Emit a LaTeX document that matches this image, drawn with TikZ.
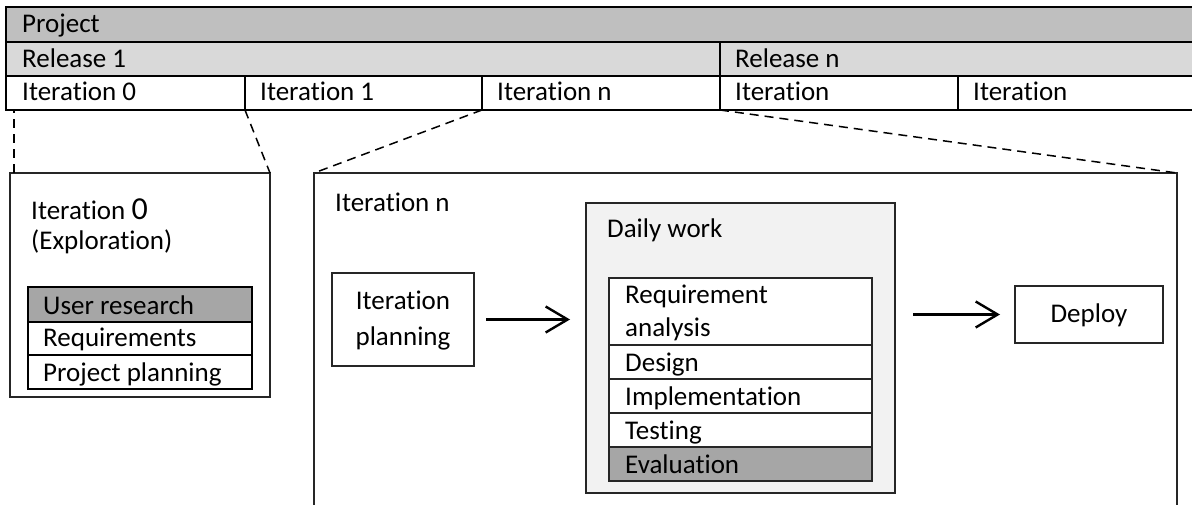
\documentclass[tikz,border=0pt]{standalone}
\usepackage{fontspec}
\setmainfont{Carlito}[Ligatures={NoCommon}]
\usetikzlibrary{arrows.meta}
\newcommand\myfs{\fontsize{27}{32}\selectfont}
\definecolor{gProj}{HTML}{BFBFBF}
\definecolor{gRel}{HTML}{D9D9D9}
\definecolor{gDark}{HTML}{A6A6A6}
\definecolor{gLight}{HTML}{F2F2F2}
\tikzset{
  cell/.style={draw=black, line width=1.3pt, inner sep=0pt, outer sep=0pt, anchor=north west, rectangle},
  lbox/.style={draw=black!85, line width=1.1pt, inner sep=0pt, outer sep=0pt, anchor=north west, rectangle},
  tbox/.style={draw=black, line width=2pt, inner sep=0pt, outer sep=0pt, anchor=north west, rectangle},
  lbl/.style={inner sep=0pt, anchor=base west, font=\myfs},
  clbl/.style={inner sep=0pt, anchor=base, font=\myfs},
  dsh/.style={draw=black, line width=1.5pt, dash pattern=on 9pt off 6pt},
  flow/.style={draw=black, line width=2.4pt, -{Straight Barb[length=22pt, width=26pt, line width=2.4pt]}},
}
\begin{document}
\begin{tikzpicture}[x=1pt, y=-1pt]
\useasboundingbox (0,0) rectangle (1192,505);
\clip (0,0) rectangle (1192,505);
% top table
\node[cell, fill=gProj, minimum width=1200pt, minimum height=35pt] (proj) at (6,7) {};
\node[cell, fill=gRel, minimum width=714pt, minimum height=34pt] (rel1) at (6,42) {};
\node[cell, fill=gRel, minimum width=480pt, minimum height=34pt] (reln) at (720,42) {};
\node[cell, minimum width=239pt, minimum height=34pt] (i0) at (6,76) {};
\node[cell, minimum width=237pt, minimum height=34pt] (i1) at (245,76) {};
\node[cell, minimum width=238pt, minimum height=34pt] (in) at (482,76) {};
\node[cell, minimum width=238pt, minimum height=34pt] (ia) at (720,76) {};
\node[cell, minimum width=242pt, minimum height=34pt] (ib) at (958,76) {};
\node[lbl] (projt) at (22,33) {Project};
\node[lbl] (rel1t) at (22,68) {Release 1};
\node[lbl] (relnt) at (735,68) {Release n};
\node[lbl] (i0t) at (22,101) {Iteration 0};
\node[lbl] (i1t) at (260,101) {Iteration 1};
\node[lbl] (int) at (497,101) {Iteration n};
\node[lbl] (iat) at (735,101) {Iteration};
\node[lbl] (ibt) at (973,101) {Iteration};
% iteration 0 box
\node[lbox, minimum width=260pt, minimum height=224pt] (i0box) at (10,173) {};
\node[lbl] (i0boxt) at (31,220) {Iteration {\fontsize{32}{32}\selectfont 0}};
\node[lbl] (explt) at (31,250) {(Exploration)};
\node[tbox, fill=gDark, minimum width=224pt, minimum height=35pt] (ur) at (28,287) {};
\node[tbox, minimum width=224pt, minimum height=33pt] (req) at (28,322) {};
\node[tbox, minimum width=224pt, minimum height=34pt] (pp) at (28,355) {};
\node[lbl] (urt) at (43,314) {User research};
\node[lbl] (reqt) at (43,346) {Requirements};
\node[lbl] (ppt) at (43,381) {Project planning};
% iteration n box
\node[lbox, minimum width=863pt, minimum height=360pt] (itn) at (314,173) {};
\node[lbl] (itnt) at (335,212) {Iteration n};
\node[lbox, minimum width=142pt, minimum height=93pt] (itp) at (332,273) {};
\node[clbl] (itpa) at (403,309) {Iteration};
\node[clbl] (itpb) at (403,345) {planning};
% daily work
\node[lbox, fill=gLight, minimum width=309pt, minimum height=290pt] (daily) at (586,203) {};
\node[lbl] (dailyt) at (607,238) {Daily work};
\node[lbox, fill=white, minimum width=263pt, minimum height=67pt] (ra) at (609,278) {};
\node[lbox, fill=white, minimum width=263pt, minimum height=34pt] (des) at (609,345) {};
\node[lbox, fill=white, minimum width=263pt, minimum height=34pt] (imp) at (609,379) {};
\node[lbox, fill=white, minimum width=263pt, minimum height=34pt] (tst) at (609,413) {};
\node[lbox, fill=gDark, minimum width=263pt, minimum height=34pt] (eva) at (609,447) {};
\node[lbl] (rat) at (625,304) {Requirement};
\node[lbl] (rbt) at (625,336) {analysis};
\node[lbl] (dest) at (625,371) {Design};
\node[lbl] (impt) at (625,405) {Implementation};
\node[lbl] (tstt) at (625,439) {Testing};
\node[lbl] (evat) at (625,473) {Evaluation};
% deploy
\node[lbox, minimum width=148pt, minimum height=57pt] (dep) at (1015,286) {};
\node[clbl] (dept) at (1089,323) {Deploy};
% arrows
\draw[flow, shorten <=12pt, shorten >=16pt] (itp.east) -- (itp.east -| daily.west);
\draw[flow, shorten <=18pt, shorten >=15pt] (dep.west -| daily.east) -- (dep.west);
% dashed zoom lines
\draw[dsh] ([xshift=4pt]i0box.north west) -- ([xshift=4pt]i0box.north west |- i0.south);
\draw[dsh] (i0.south east) -- (i0box.north east);
\draw[dsh] (in.south west) -- (itn.north west);
\draw[dsh] (ia.south west) -- (itn.north east);
\end{tikzpicture}
\end{document}
